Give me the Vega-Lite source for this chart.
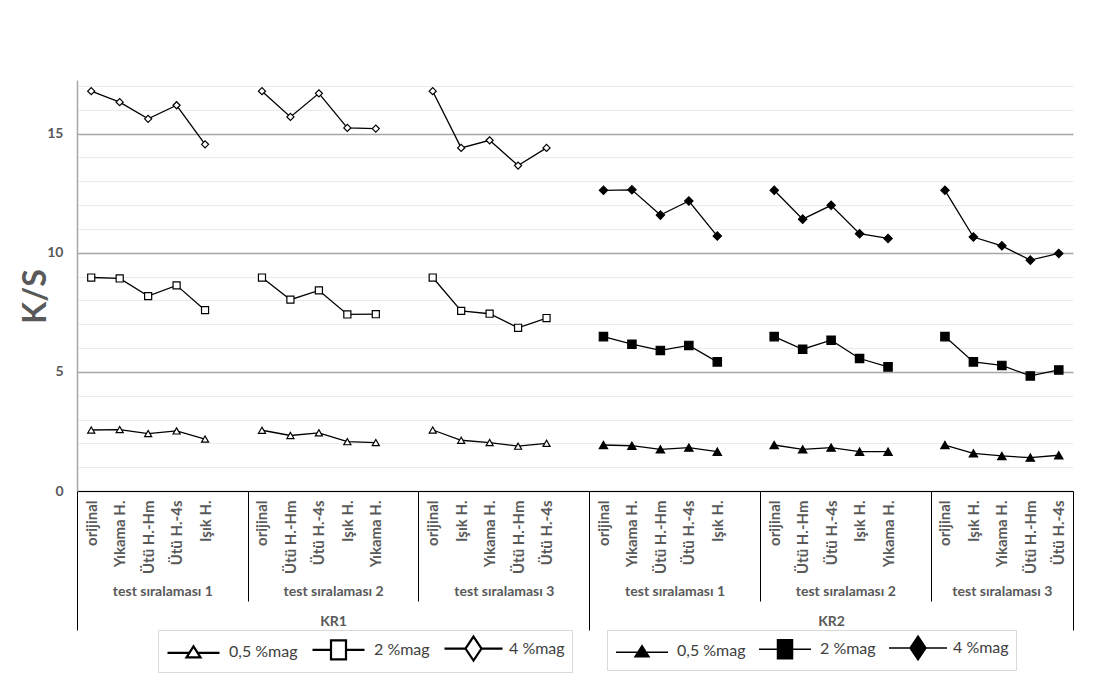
{
  "$schema": "https://vega.github.io/schema/vega-lite/v6.json",
  "width": 996,
  "height": 411,
  "autosize": "none",
  "padding": {"left": 77, "top": 80, "right": 30, "bottom": 206},
  "background": "white",
  "config": {
    "view": {"stroke": null},
    "font": "Lato",
    "axis": {"labelFont": "Lato", "titleFont": "Lato"},
    "legend": {"labelFont": "Lato"}
  },
  "data": {"values": [
    {"kr":"KR1","ts":"test sıralaması 1","slot":"1-1|orijinal","series":"0,5 %mag","value":2.56},
    {"kr":"KR1","ts":"test sıralaması 1","slot":"1-2|Yıkama H.","series":"0,5 %mag","value":2.58},
    {"kr":"KR1","ts":"test sıralaması 1","slot":"1-3|Ütü H.-Hm","series":"0,5 %mag","value":2.41},
    {"kr":"KR1","ts":"test sıralaması 1","slot":"1-4|Ütü H.-4s","series":"0,5 %mag","value":2.52},
    {"kr":"KR1","ts":"test sıralaması 1","slot":"1-5|Işık H.","series":"0,5 %mag","value":2.18},
    {"kr":"KR1","ts":"test sıralaması 1","slot":"1-1|orijinal","series":"2 %mag","value":8.96},
    {"kr":"KR1","ts":"test sıralaması 1","slot":"1-2|Yıkama H.","series":"2 %mag","value":8.92},
    {"kr":"KR1","ts":"test sıralaması 1","slot":"1-3|Ütü H.-Hm","series":"2 %mag","value":8.18},
    {"kr":"KR1","ts":"test sıralaması 1","slot":"1-4|Ütü H.-4s","series":"2 %mag","value":8.63},
    {"kr":"KR1","ts":"test sıralaması 1","slot":"1-5|Işık H.","series":"2 %mag","value":7.59},
    {"kr":"KR1","ts":"test sıralaması 1","slot":"1-1|orijinal","series":"4 %mag","value":16.78},
    {"kr":"KR1","ts":"test sıralaması 1","slot":"1-2|Yıkama H.","series":"4 %mag","value":16.32},
    {"kr":"KR1","ts":"test sıralaması 1","slot":"1-3|Ütü H.-Hm","series":"4 %mag","value":15.62},
    {"kr":"KR1","ts":"test sıralaması 1","slot":"1-4|Ütü H.-4s","series":"4 %mag","value":16.19},
    {"kr":"KR1","ts":"test sıralaması 1","slot":"1-5|Işık H.","series":"4 %mag","value":14.55},

    {"kr":"KR1","ts":"test sıralaması 2","slot":"2-1|orijinal","series":"0,5 %mag","value":2.55},
    {"kr":"KR1","ts":"test sıralaması 2","slot":"2-2|Ütü H.-Hm","series":"0,5 %mag","value":2.33},
    {"kr":"KR1","ts":"test sıralaması 2","slot":"2-3|Ütü H.-4s","series":"0,5 %mag","value":2.44},
    {"kr":"KR1","ts":"test sıralaması 2","slot":"2-4|Işık H.","series":"0,5 %mag","value":2.07},
    {"kr":"KR1","ts":"test sıralaması 2","slot":"2-5|Yıkama H.","series":"0,5 %mag","value":2.03},
    {"kr":"KR1","ts":"test sıralaması 2","slot":"2-1|orijinal","series":"2 %mag","value":8.96},
    {"kr":"KR1","ts":"test sıralaması 2","slot":"2-2|Ütü H.-Hm","series":"2 %mag","value":8.03},
    {"kr":"KR1","ts":"test sıralaması 2","slot":"2-3|Ütü H.-4s","series":"2 %mag","value":8.42},
    {"kr":"KR1","ts":"test sıralaması 2","slot":"2-4|Işık H.","series":"2 %mag","value":7.41},
    {"kr":"KR1","ts":"test sıralaması 2","slot":"2-5|Yıkama H.","series":"2 %mag","value":7.42},
    {"kr":"KR1","ts":"test sıralaması 2","slot":"2-1|orijinal","series":"4 %mag","value":16.78},
    {"kr":"KR1","ts":"test sıralaması 2","slot":"2-2|Ütü H.-Hm","series":"4 %mag","value":15.70},
    {"kr":"KR1","ts":"test sıralaması 2","slot":"2-3|Ütü H.-4s","series":"4 %mag","value":16.69},
    {"kr":"KR1","ts":"test sıralaması 2","slot":"2-4|Işık H.","series":"4 %mag","value":15.24},
    {"kr":"KR1","ts":"test sıralaması 2","slot":"2-5|Yıkama H.","series":"4 %mag","value":15.21},

    {"kr":"KR1","ts":"test sıralaması 3","slot":"3-1|orijinal","series":"0,5 %mag","value":2.56},
    {"kr":"KR1","ts":"test sıralaması 3","slot":"3-2|Işık H.","series":"0,5 %mag","value":2.13},
    {"kr":"KR1","ts":"test sıralaması 3","slot":"3-3|Yıkama H.","series":"0,5 %mag","value":2.03},
    {"kr":"KR1","ts":"test sıralaması 3","slot":"3-4|Ütü H.-Hm","series":"0,5 %mag","value":1.88},
    {"kr":"KR1","ts":"test sıralaması 3","slot":"3-5|Ütü H.-4s","series":"0,5 %mag","value":2.00},
    {"kr":"KR1","ts":"test sıralaması 3","slot":"3-1|orijinal","series":"2 %mag","value":8.96},
    {"kr":"KR1","ts":"test sıralaması 3","slot":"3-2|Işık H.","series":"2 %mag","value":7.56},
    {"kr":"KR1","ts":"test sıralaması 3","slot":"3-3|Yıkama H.","series":"2 %mag","value":7.44},
    {"kr":"KR1","ts":"test sıralaması 3","slot":"3-4|Ütü H.-Hm","series":"2 %mag","value":6.85},
    {"kr":"KR1","ts":"test sıralaması 3","slot":"3-5|Ütü H.-4s","series":"2 %mag","value":7.26},
    {"kr":"KR1","ts":"test sıralaması 3","slot":"3-1|orijinal","series":"4 %mag","value":16.78},
    {"kr":"KR1","ts":"test sıralaması 3","slot":"3-2|Işık H.","series":"4 %mag","value":14.40},
    {"kr":"KR1","ts":"test sıralaması 3","slot":"3-3|Yıkama H.","series":"4 %mag","value":14.72},
    {"kr":"KR1","ts":"test sıralaması 3","slot":"3-4|Ütü H.-Hm","series":"4 %mag","value":13.66},
    {"kr":"KR1","ts":"test sıralaması 3","slot":"3-5|Ütü H.-4s","series":"4 %mag","value":14.40},

    {"kr":"KR2","ts":"test sıralaması 1","slot":"4-1|orijinal","series":"0,5 %mag","value":1.93},
    {"kr":"KR2","ts":"test sıralaması 1","slot":"4-2|Yıkama H.","series":"0,5 %mag","value":1.90},
    {"kr":"KR2","ts":"test sıralaması 1","slot":"4-3|Ütü H.-Hm","series":"0,5 %mag","value":1.75},
    {"kr":"KR2","ts":"test sıralaması 1","slot":"4-4|Ütü H.-4s","series":"0,5 %mag","value":1.82},
    {"kr":"KR2","ts":"test sıralaması 1","slot":"4-5|Işık H.","series":"0,5 %mag","value":1.65},
    {"kr":"KR2","ts":"test sıralaması 1","slot":"4-1|orijinal","series":"2 %mag","value":6.48},
    {"kr":"KR2","ts":"test sıralaması 1","slot":"4-2|Yıkama H.","series":"2 %mag","value":6.16},
    {"kr":"KR2","ts":"test sıralaması 1","slot":"4-3|Ütü H.-Hm","series":"2 %mag","value":5.90},
    {"kr":"KR2","ts":"test sıralaması 1","slot":"4-4|Ütü H.-4s","series":"2 %mag","value":6.11},
    {"kr":"KR2","ts":"test sıralaması 1","slot":"4-5|Işık H.","series":"2 %mag","value":5.42},
    {"kr":"KR2","ts":"test sıralaması 1","slot":"4-1|orijinal","series":"4 %mag","value":12.62},
    {"kr":"KR2","ts":"test sıralaması 1","slot":"4-2|Yıkama H.","series":"4 %mag","value":12.64},
    {"kr":"KR2","ts":"test sıralaması 1","slot":"4-3|Ütü H.-Hm","series":"4 %mag","value":11.58},
    {"kr":"KR2","ts":"test sıralaması 1","slot":"4-4|Ütü H.-4s","series":"4 %mag","value":12.17},
    {"kr":"KR2","ts":"test sıralaması 1","slot":"4-5|Işık H.","series":"4 %mag","value":10.70},

    {"kr":"KR2","ts":"test sıralaması 2","slot":"5-1|orijinal","series":"0,5 %mag","value":1.93},
    {"kr":"KR2","ts":"test sıralaması 2","slot":"5-2|Ütü H.-Hm","series":"0,5 %mag","value":1.75},
    {"kr":"KR2","ts":"test sıralaması 2","slot":"5-3|Ütü H.-4s","series":"0,5 %mag","value":1.82},
    {"kr":"KR2","ts":"test sıralaması 2","slot":"5-4|Işık H.","series":"0,5 %mag","value":1.65},
    {"kr":"KR2","ts":"test sıralaması 2","slot":"5-5|Yıkama H.","series":"0,5 %mag","value":1.65},
    {"kr":"KR2","ts":"test sıralaması 2","slot":"5-1|orijinal","series":"2 %mag","value":6.48},
    {"kr":"KR2","ts":"test sıralaması 2","slot":"5-2|Ütü H.-Hm","series":"2 %mag","value":5.95},
    {"kr":"KR2","ts":"test sıralaması 2","slot":"5-3|Ütü H.-4s","series":"2 %mag","value":6.33},
    {"kr":"KR2","ts":"test sıralaması 2","slot":"5-4|Işık H.","series":"2 %mag","value":5.56},
    {"kr":"KR2","ts":"test sıralaması 2","slot":"5-5|Yıkama H.","series":"2 %mag","value":5.21},
    {"kr":"KR2","ts":"test sıralaması 2","slot":"5-1|orijinal","series":"4 %mag","value":12.62},
    {"kr":"KR2","ts":"test sıralaması 2","slot":"5-2|Ütü H.-Hm","series":"4 %mag","value":11.41},
    {"kr":"KR2","ts":"test sıralaması 2","slot":"5-3|Ütü H.-4s","series":"4 %mag","value":11.99},
    {"kr":"KR2","ts":"test sıralaması 2","slot":"5-4|Işık H.","series":"4 %mag","value":10.80},
    {"kr":"KR2","ts":"test sıralaması 2","slot":"5-5|Yıkama H.","series":"4 %mag","value":10.60},

    {"kr":"KR2","ts":"test sıralaması 3","slot":"6-1|orijinal","series":"0,5 %mag","value":1.93},
    {"kr":"KR2","ts":"test sıralaması 3","slot":"6-2|Işık H.","series":"0,5 %mag","value":1.58},
    {"kr":"KR2","ts":"test sıralaması 3","slot":"6-3|Yıkama H.","series":"0,5 %mag","value":1.47},
    {"kr":"KR2","ts":"test sıralaması 3","slot":"6-4|Ütü H.-Hm","series":"0,5 %mag","value":1.40},
    {"kr":"KR2","ts":"test sıralaması 3","slot":"6-5|Ütü H.-4s","series":"0,5 %mag","value":1.50},
    {"kr":"KR2","ts":"test sıralaması 3","slot":"6-1|orijinal","series":"2 %mag","value":6.48},
    {"kr":"KR2","ts":"test sıralaması 3","slot":"6-2|Işık H.","series":"2 %mag","value":5.42},
    {"kr":"KR2","ts":"test sıralaması 3","slot":"6-3|Yıkama H.","series":"2 %mag","value":5.27},
    {"kr":"KR2","ts":"test sıralaması 3","slot":"6-4|Ütü H.-Hm","series":"2 %mag","value":4.83},
    {"kr":"KR2","ts":"test sıralaması 3","slot":"6-5|Ütü H.-4s","series":"2 %mag","value":5.08},
    {"kr":"KR2","ts":"test sıralaması 3","slot":"6-1|orijinal","series":"4 %mag","value":12.62},
    {"kr":"KR2","ts":"test sıralaması 3","slot":"6-2|Işık H.","series":"4 %mag","value":10.66},
    {"kr":"KR2","ts":"test sıralaması 3","slot":"6-3|Yıkama H.","series":"4 %mag","value":10.29},
    {"kr":"KR2","ts":"test sıralaması 3","slot":"6-4|Ütü H.-Hm","series":"4 %mag","value":9.69},
    {"kr":"KR2","ts":"test sıralaması 3","slot":"6-5|Ütü H.-4s","series":"4 %mag","value":9.97}
  ]},
  "layer": [
    {
      "layer": [
        {
          "mark": {"type": "line", "color": "black", "strokeWidth": 1.3},
          "encoding": {
            "x": {"field": "slot", "type": "ordinal",
              "scale": {"type": "point", "padding": 0.5, "domain": [
                "1-1|orijinal","1-2|Yıkama H.","1-3|Ütü H.-Hm","1-4|Ütü H.-4s","1-5|Işık H.","1-6|",
                "2-1|orijinal","2-2|Ütü H.-Hm","2-3|Ütü H.-4s","2-4|Işık H.","2-5|Yıkama H.","2-6|",
                "3-1|orijinal","3-2|Işık H.","3-3|Yıkama H.","3-4|Ütü H.-Hm","3-5|Ütü H.-4s","3-6|",
                "4-1|orijinal","4-2|Yıkama H.","4-3|Ütü H.-Hm","4-4|Ütü H.-4s","4-5|Işık H.","4-6|",
                "5-1|orijinal","5-2|Ütü H.-Hm","5-3|Ütü H.-4s","5-4|Işık H.","5-5|Yıkama H.","5-6|",
                "6-1|orijinal","6-2|Işık H.","6-3|Yıkama H.","6-4|Ütü H.-Hm","6-5|Ütü H.-4s"]},
              "axis": {"orient": "bottom", "title": null, "labelExpr": "split(datum.value, '|')[1]",
                "labelAngle": -90, "labelAlign": "right", "labelBaseline": "middle", "labelPadding": 9,
                "ticks": false, "tickSize": 0, "labelFontSize": 15, "labelFontWeight": "bold",
                "labelColor": "#595959", "domainColor": "black", "domainWidth": 1,
                "labelOverlap": false, "grid": false, "labelLimit": 200}},
            "y": {"field": "value", "type": "quantitative",
              "scale": {"domain": [0, 17.25], "nice": false, "zero": true},
              "axis": {"title": "K/S", "values": [0,1,2,3,4,5,6,7,8,9,10,11,12,13,14,15,16,17],
                "tickCount": 40, "labelOverlap": false, "format": "d",
                "labelExpr": "datum.value % 5 === 0 ? datum.label : ''",
                "ticks": false, "tickSize": 0, "labelPadding": 14, "labelFontSize": 14,
                "labelFontWeight": "bold", "labelColor": "#595959",
                "domainColor": "#a6a6a6", "domainWidth": 1.5, "grid": true,
                "gridColor": {"condition": {"test": "datum.value % 5 === 0", "value": "#a6a6a6"}, "value": "#ebebeb"},
                "gridWidth": {"condition": {"test": "datum.value % 5 === 0", "value": 1.5}, "value": 1},
                "titleFontSize": 32, "titleFontWeight": "bold", "titleColor": "#595959",
                "titleX": -42, "titleY": 216, "titleAngle": -90, "titleAlign": "center", "titleBaseline": "middle"}},
            "detail": [{"field": "kr"}, {"field": "ts"}, {"field": "series"}]
          }
        },
        {
          "mark": {"type": "point", "filled": true, "stroke": "black", "strokeWidth": 1.2, "opacity": 1},
          "encoding": {
            "x": {"field": "slot", "type": "ordinal"},
            "y": {"field": "value", "type": "quantitative"},
            "shape": {"field": "series", "type": "nominal",
              "scale": {"domain": ["0,5 %mag", "2 %mag", "4 %mag"], "range": ["triangle-up", "square", "diamond"]},
              "legend": null},
            "fill": {"field": "kr", "type": "nominal",
              "scale": {"domain": ["KR1", "KR2"], "range": ["white", "black"]}, "legend": null},
            "size": {"field": "kr", "type": "nominal",
              "scale": {"domain": ["KR1", "KR2"], "range": [50, 70]}, "legend": null}
          }
        }
      ]
    },
    {
      "transform": [{"filter": "false"}],
      "mark": {"type": "point", "filled": false, "color": "black", "stroke": "black", "strokeWidth": 2.2, "size": 400, "opacity": 1},
      "encoding": {
        "shape": {"field": "series", "type": "nominal",
          "scale": {"domain": ["0,5 %mag", "2 %mag", "4 %mag"],
            "range": ["M0,-0.55L0.7,0.55L-0.7,0.55Z M-2.6,0.1H-0.41 M0.41,0.1H2.6",
                      "M-0.75,-0.95H0.75V0.95H-0.75Z M-2.6,0H-0.75 M0.75,0H2.6",
                      "M0,-1.2L0.8,0L0,1.2L-0.8,0Z M-2.9,0H-0.8 M0.8,0H2.9"]},
          "legend": {"orient": "none", "legendX": 81, "legendY": 550, "direction": "horizontal",
            "title": null, "padding": 7, "fillColor": "white", "strokeColor": "#d9d9d9",
            "labelFontSize": 16, "labelColor": "#404040", "symbolSize": 400,
            "symbolOffset": 17, "labelOffset": 24, "columnPadding": 10,
            "symbolStrokeColor": "black", "symbolStrokeWidth": 2.2}}
      }
    },
    {
      "transform": [{"filter": "false"}],
      "mark": {"type": "point", "filled": false, "color": "black", "stroke": "black", "strokeWidth": 1.5, "size": 400, "opacity": 1},
      "encoding": {
        "shape": {"field": "series", "type": "nominal",
          "scale": {"domain": ["0,5 %mag", "2 %mag", "4 %mag"],
            "range": ["M0,-0.55L0.7,0.55L-0.7,0.55Z M-0.06,-0.45H0.06 M-0.13,-0.35H0.13 M-0.19,-0.25H0.19 M-0.25,-0.15H0.25 M-0.32,-0.05H0.32 M-0.38,0.05H0.38 M-0.45,0.15H0.45 M-0.51,0.25H0.51 M-0.57,0.35H0.57 M-0.64,0.45H0.64 M-2.6,0.1H-0.41 M0.41,0.1H2.6",
                      "M-0.75,-0.95H0.75V0.95H-0.75Z M-0.75,-0.85H0.75 M-0.75,-0.75H0.75 M-0.75,-0.65H0.75 M-0.75,-0.55H0.75 M-0.75,-0.45H0.75 M-0.75,-0.35H0.75 M-0.75,-0.25H0.75 M-0.75,-0.15H0.75 M-0.75,-0.05H0.75 M-0.75,0.05H0.75 M-0.75,0.15H0.75 M-0.75,0.25H0.75 M-0.75,0.35H0.75 M-0.75,0.45H0.75 M-0.75,0.55H0.75 M-0.75,0.65H0.75 M-0.75,0.75H0.75 M-0.75,0.85H0.75 M-2.6,0H2.6",
                      "M0,-1.2L0.8,0L0,1.2L-0.8,0Z M-0.07,-1.1H0.07 M-0.13,-1H0.13 M-0.2,-0.9H0.2 M-0.27,-0.8H0.27 M-0.33,-0.7H0.33 M-0.4,-0.6H0.4 M-0.47,-0.5H0.47 M-0.53,-0.4H0.53 M-0.6,-0.3H0.6 M-0.67,-0.2H0.67 M-0.73,-0.1H0.73 M-0.73,0.1H0.73 M-0.67,0.2H0.67 M-0.6,0.3H0.6 M-0.53,0.4H0.53 M-0.47,0.5H0.47 M-0.4,0.6H0.4 M-0.33,0.7H0.33 M-0.27,0.8H0.27 M-0.2,0.9H0.2 M-0.13,1H0.13 M-0.07,1.1H0.07 M-2.9,0H2.9"]},
          "legend": {"orient": "none", "legendX": 530, "legendY": 550, "direction": "horizontal",
            "title": null, "padding": 7, "fillColor": "white", "strokeColor": "#d9d9d9",
            "labelFontSize": 16, "labelColor": "#404040", "symbolSize": 400,
            "symbolOffset": 17, "labelOffset": 24, "columnPadding": 10,
            "symbolStrokeColor": "black", "symbolStrokeWidth": 1.5}}
      }
    },
    {
      "transform": [{"filter": "false"}],
      "mark": "point",
      "encoding": {
        "x": {"field": "pos", "type": "quantitative", "scale": {"domain": [0, 35], "nice": false, "zero": false},
          "axis": {"orient": "bottom", "title": null, "values": [6, 12, 24, 30], "labels": false,
            "ticks": true, "tickSize": 110, "tickColor": "black", "tickWidth": 1, "domain": false, "grid": false}}
      }
    },
    {
      "transform": [{"filter": "false"}],
      "mark": "point",
      "encoding": {
        "x": {"field": "pos", "type": "quantitative", "scale": {"domain": [0, 35], "nice": false, "zero": false},
          "axis": {"orient": "bottom", "title": null, "values": [0, 18, 35], "labels": false,
            "ticks": true, "tickSize": 139, "tickColor": "black", "tickWidth": 1, "domain": false, "grid": false}}
      }
    },
    {
      "transform": [{"filter": "false"}],
      "mark": "point",
      "encoding": {
        "x": {"field": "pos", "type": "quantitative", "scale": {"domain": [0, 35], "nice": false, "zero": false},
          "axis": {"orient": "bottom", "title": null, "values": [3, 9, 15, 21, 27, 32.5],
            "labelExpr": "(datum.value == 3 || datum.value == 21) ? 'test sıralaması 1' : (datum.value == 9 || datum.value == 27) ? 'test sıralaması 2' : 'test sıralaması 3'",
            "ticks": false, "tickSize": 0, "labelPadding": 93, "labelFlush": false, "labelOverlap": false,
            "labelFontSize": 14, "labelFontWeight": "bold", "labelColor": "#595959",
            "domain": false, "grid": false}}
      }
    },
    {
      "transform": [{"filter": "false"}],
      "mark": "point",
      "encoding": {
        "x": {"field": "pos", "type": "quantitative", "scale": {"domain": [0, 35], "nice": false, "zero": false},
          "axis": {"orient": "bottom", "title": null, "values": [9, 26.5],
            "labelExpr": "datum.value < 18 ? 'KR1' : 'KR2'",
            "ticks": false, "tickSize": 0, "labelPadding": 123, "labelFlush": false, "labelOverlap": false,
            "labelFontSize": 14, "labelFontWeight": "bold", "labelColor": "#595959",
            "domain": false, "grid": false}}
      }
    }
  ],
  "resolve": {
    "scale": {"x": "independent", "shape": "independent"},
    "axis": {"x": "independent"},
    "legend": {"shape": "independent"}
  }
}
